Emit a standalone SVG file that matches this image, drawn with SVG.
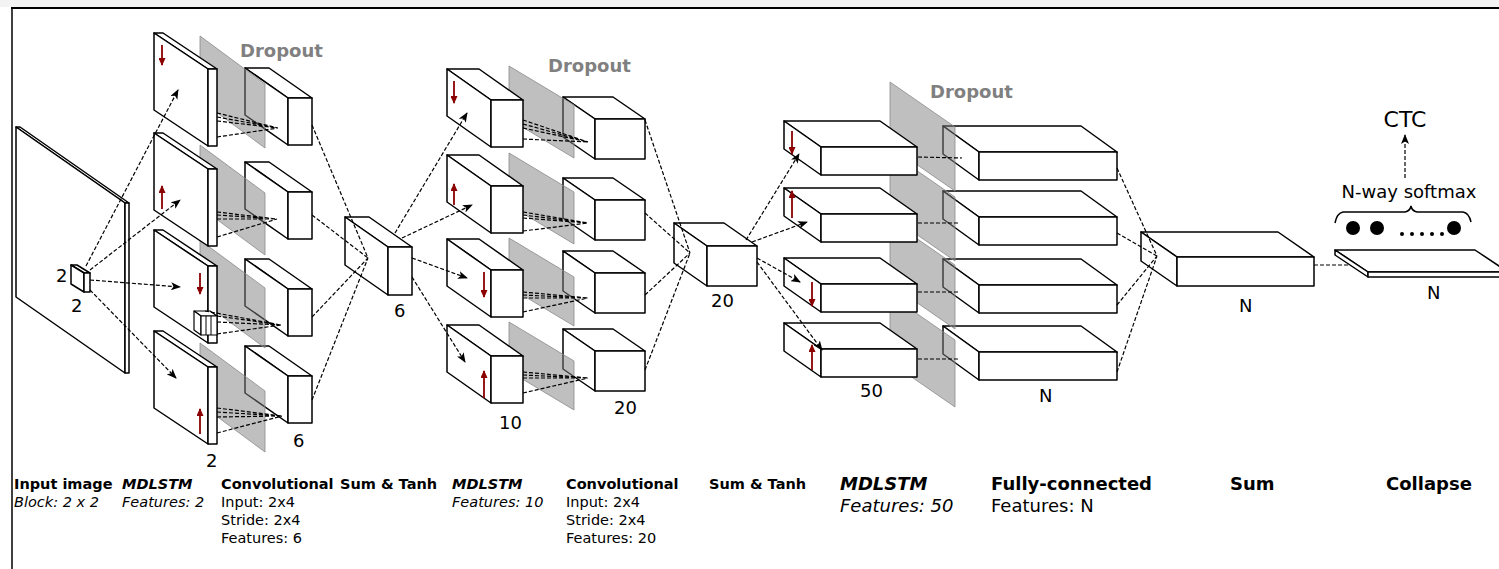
<svg xmlns="http://www.w3.org/2000/svg" width="1499" height="569" viewBox="0 0 1499 569">
<style>
.f{fill:#fff;stroke:#000;stroke-width:1.5;stroke-linejoin:round}
.g{fill:#808080;fill-opacity:0.5;stroke:#8a8a8a;stroke-width:0.8}
.d{fill:none;stroke:#000;stroke-width:1.2;stroke-dasharray:4 2}
.da{fill:none;stroke:#000;stroke-width:1.2;stroke-dasharray:4 2;marker-end:url(#ah)}
.r{stroke:#8b0000;stroke-width:1.8;marker-end:url(#rh)}
.t{font-family:"DejaVu Sans",sans-serif;fill:#000}
.n{font-family:"DejaVu Sans",sans-serif;font-size:18px;fill:#000}
.b{font-weight:bold}
.i{font-style:italic}
.s14{font-size:14.5px}
.s18{font-size:18px}
.drop{font-family:"DejaVu Sans",sans-serif;font-size:18px;font-weight:bold;fill:#808080}
</style>
<defs>
<marker id="ah" markerWidth="10" markerHeight="8" refX="9" refY="4" orient="auto" markerUnits="userSpaceOnUse"><path d="M0,0 L10,4 L0,8 L2.5,4 z" fill="#000"/></marker>
<marker id="rh" markerWidth="8" markerHeight="7" refX="7" refY="3.5" orient="auto" markerUnits="userSpaceOnUse"><path d="M0,0 L8,3.5 L0,7 z" fill="#8b0000"/></marker>
</defs>
<rect x="0" y="0" width="1499" height="569" fill="#fff"/>
<rect x="0" y="0" width="1499" height="7" fill="#f3f3f3"/>
<g id="frame">
<line x1="11" y1="8" x2="1499" y2="8" stroke="#000" stroke-width="2"/>
<line x1="12" y1="8" x2="12" y2="569" stroke="#000" stroke-width="1.5"/>
</g>

<g id="input-image">
<polygon class="f" points="16,127 20,127 129,203 125,203"/>
<polygon class="f" points="16,127 125,203 125,373 16,297"/>
<rect class="f" x="125" y="203" width="4" height="170"/>
</g>
<g id="input-block">
<polygon class="f" points="71,265 77,265 90,273 84,273"/>
<polygon class="f" points="71,265 84,273 84,292 71,284"/>
<rect class="f" x="84" y="273" width="6" height="19"/>
</g>

<g id="conv1-1"><polygon class="f" points="245,68 269,68 312,98 288,98"/><polygon class="f" points="245,68 288,98 288,145 245,115"/><rect class="f" x="288" y="98" width="24" height="47"/></g>
<g id="conv1-2"><polygon class="f" points="245,162 269,162 312,192 288,192"/><polygon class="f" points="245,162 288,192 288,239 245,209"/><rect class="f" x="288" y="192" width="24" height="47"/></g>
<g id="conv1-3"><polygon class="f" points="245,259 269,259 312,289 288,289"/><polygon class="f" points="245,259 288,289 288,336 245,306"/><rect class="f" x="288" y="289" width="24" height="47"/></g>
<g id="conv1-4"><polygon class="f" points="245,346 269,346 312,376 288,376"/><polygon class="f" points="245,346 288,376 288,423 245,393"/><rect class="f" x="288" y="376" width="24" height="47"/></g>

<g id="dropout1">
<polygon class="g" points="200,36 265,84 265,148 200,100"/>
<polygon class="g" points="200,145 265,193 265,255 200,207"/>
<polygon class="g" points="200,240 265,288 265,348 200,300"/>
<polygon class="g" points="200,343 265,391 265,452 200,404"/>
</g>

<g id="mdlstm1-1"><polygon class="f" points="154,33 163,33 217,69 208,69"/><polygon class="f" points="154,33 208,69 208,146 154,110"/><rect class="f" x="208" y="69" width="9" height="77"/><line class="r" x1="162" y1="45" x2="162" y2="65"/></g>
<g id="mdlstm1-2"><polygon class="f" points="154,133 163,133 217,169 208,169"/><polygon class="f" points="154,133 208,169 208,246 154,210"/><rect class="f" x="208" y="169" width="9" height="77"/><line class="r" x1="162" y1="209" x2="162" y2="186"/></g>
<g id="mdlstm1-3"><polygon class="f" points="154,230 163,230 217,266 208,266"/><polygon class="f" points="154,230 208,266 208,343 154,307"/><rect class="f" x="208" y="266" width="9" height="77"/><line class="r" x1="200" y1="273" x2="200" y2="294"/></g>
<g id="mdlstm1-4"><polygon class="f" points="154,331 163,331 217,367 208,367"/><polygon class="f" points="154,331 208,367 208,444 154,408"/><rect class="f" x="208" y="367" width="9" height="77"/><line class="r" x1="200" y1="434" x2="200" y2="409"/></g>
<g id="kernel">
<polygon class="f" points="194,311 210,311 217,316 201,316" style="stroke-width:1.2"/>
<polygon class="f" points="194,311 201,316 201,335 194,330" style="stroke-width:1.2"/>
<rect class="f" x="201" y="316" width="16" height="19" style="stroke-width:1.2"/>
<path d="M206,316 V335 M211,316 V335" stroke="#000" stroke-width="1"/>
</g>

<g id="sum1"><polygon class="f" points="345,217 369,217 412,247 388,247"/><polygon class="f" points="345,217 388,247 388,295 345,265"/><rect class="f" x="388" y="247" width="24" height="48"/></g>

<g id="conv2-1"><polygon class="f" points="563,97 613,97 645,119 595,119"/><polygon class="f" points="563,97 595,119 595,159 563,137"/><rect class="f" x="595" y="119" width="50" height="40"/></g>
<g id="conv2-2"><polygon class="f" points="563,178 613,178 645,200 595,200"/><polygon class="f" points="563,178 595,200 595,240 563,218"/><rect class="f" x="595" y="200" width="50" height="40"/></g>
<g id="conv2-3"><polygon class="f" points="563,251 613,251 645,273 595,273"/><polygon class="f" points="563,251 595,273 595,313 563,291"/><rect class="f" x="595" y="273" width="50" height="40"/></g>
<g id="conv2-4"><polygon class="f" points="563,329 613,329 645,351 595,351"/><polygon class="f" points="563,329 595,351 595,391 563,369"/><rect class="f" x="595" y="351" width="50" height="40"/></g>

<g id="dropout2">
<polygon class="g" points="509,66 574,105 574,158 509,119"/>
<polygon class="g" points="509,153 574,192 574,244 509,205"/>
<polygon class="g" points="509,238 574,277 574,326 509,287"/>
<polygon class="g" points="509,322 574,361 574,410 509,371"/>
</g>

<g id="mdlstm2-1"><polygon class="f" points="447,69 479,69 523,100 491,100"/><polygon class="f" points="447,69 491,100 491,147 447,116"/><rect class="f" x="491" y="100" width="32" height="47"/><line class="r" x1="454" y1="81" x2="454" y2="103"/></g>
<g id="mdlstm2-2"><polygon class="f" points="447,155 479,155 523,186 491,186"/><polygon class="f" points="447,155 491,186 491,233 447,202"/><rect class="f" x="491" y="186" width="32" height="47"/><line class="r" x1="454" y1="205" x2="454" y2="184"/></g>
<g id="mdlstm2-3"><polygon class="f" points="447,239 479,239 523,270 491,270"/><polygon class="f" points="447,239 491,270 491,317 447,286"/><rect class="f" x="491" y="270" width="32" height="47"/><line class="r" x1="484" y1="272" x2="484" y2="297"/></g>
<g id="mdlstm2-4"><polygon class="f" points="447,325 479,325 523,356 491,356"/><polygon class="f" points="447,325 491,356 491,403 447,372"/><rect class="f" x="491" y="356" width="32" height="47"/><line class="r" x1="484" y1="398" x2="484" y2="371"/></g>

<g id="sum2"><polygon class="f" points="674,223 724,223 757,246 707,246"/><polygon class="f" points="674,223 707,246 707,286 674,263"/><rect class="f" x="707" y="246" width="50" height="40"/></g>

<g id="fc-1"><polygon class="f" points="943,126 1081,126 1117,152 979,152"/><polygon class="f" points="943,126 979,152 979,180 943,154"/><rect class="f" x="979" y="152" width="138" height="28"/></g>
<g id="fc-2"><polygon class="f" points="943,191 1081,191 1117,217 979,217"/><polygon class="f" points="943,191 979,217 979,245 943,219"/><rect class="f" x="979" y="217" width="138" height="28"/></g>
<g id="fc-3"><polygon class="f" points="943,259 1081,259 1117,285 979,285"/><polygon class="f" points="943,259 979,285 979,313 943,287"/><rect class="f" x="979" y="285" width="138" height="28"/></g>
<g id="fc-4"><polygon class="f" points="943,326 1081,326 1117,352 979,352"/><polygon class="f" points="943,326 979,352 979,380 943,354"/><rect class="f" x="979" y="352" width="138" height="28"/></g>

<g id="dropout3">
<polygon class="g" points="890,82 955,127 955,191 890,146"/>
<polygon class="g" points="890,152 955,197 955,261 890,216"/>
<polygon class="g" points="890,220 955,265 955,329 890,284"/>
<polygon class="g" points="890,295 955,340 955,407 890,362"/>
</g>

<g id="mdlstm3-1"><polygon class="f" points="784,121 880,121 917,147 821,147"/><polygon class="f" points="784,121 821,147 821,175 784,149"/><rect class="f" x="821" y="147" width="96" height="28"/><line class="r" x1="792" y1="131" x2="792" y2="154"/></g>
<g id="mdlstm3-2"><polygon class="f" points="784,188 880,188 917,214 821,214"/><polygon class="f" points="784,188 821,214 821,242 784,216"/><rect class="f" x="821" y="214" width="96" height="28"/><line class="r" x1="792" y1="218" x2="792" y2="191"/></g>
<g id="mdlstm3-3"><polygon class="f" points="784,258 880,258 917,284 821,284"/><polygon class="f" points="784,258 821,284 821,312 784,286"/><rect class="f" x="821" y="284" width="96" height="28"/><line class="r" x1="812" y1="282" x2="812" y2="306"/></g>
<g id="mdlstm3-4"><polygon class="f" points="784,323 880,323 917,349 821,349"/><polygon class="f" points="784,323 821,349 821,377 784,351"/><rect class="f" x="821" y="349" width="96" height="28"/><line class="r" x1="812" y1="370" x2="812" y2="345"/></g>

<g id="sum3"><polygon class="f" points="1141,232 1278,232 1314,257 1177,257"/><polygon class="f" points="1141,232 1177,257 1177,286 1141,261"/><rect class="f" x="1177" y="257" width="137" height="29"/></g>

<g id="collapse"><polygon class="f" points="1335,250 1475,250 1508,272 1368,272"/><polygon class="f" points="1335,250 1368,272 1368,277 1335,255"/><rect class="f" x="1368" y="272" width="140" height="5"/></g>

<g id="softmax">
<circle cx="1353" cy="228" r="7" fill="#000"/>
<circle cx="1377" cy="228" r="7" fill="#000"/>
<circle cx="1454" cy="228" r="7" fill="#000"/>
<circle cx="1402" cy="234" r="2" fill="#000"/>
<circle cx="1412" cy="234" r="2" fill="#000"/>
<circle cx="1422" cy="234" r="2" fill="#000"/>
<circle cx="1432" cy="234" r="2" fill="#000"/>
<circle cx="1442" cy="234" r="2" fill="#000"/>
<path d="M1335,223 Q1337,213 1343,212 L1405,212 Q1410,211 1411,206 Q1412,211 1417,212 L1463,212 Q1469,213 1471,222" fill="none" stroke="#000" stroke-width="1.5"/>
</g>

<g id="connectors">
<line class="da" x1="86" y1="266" x2="178" y2="90"/>
<line class="da" x1="90" y1="270" x2="180" y2="200"/>
<line class="da" x1="90" y1="280" x2="180" y2="287"/>
<line class="da" x1="90" y1="290" x2="176" y2="378"/>

<path class="d" d="M217,113 L278,128 M217,117 L278,128 M217,121 L278,128 M217,137 L278,128"/>
<path class="d" d="M217,212 L277,219 M217,215 L277,219 M217,219 L277,219 M217,237 L277,219"/>
<path class="d" d="M205,311 L281,325 M217,316 L281,325 M217,322 L281,325 M217,334 L281,325"/>
<path class="d" d="M217,408 L282,416 M217,412 L282,416 M217,417 L282,416 M217,433 L282,416"/>

<path class="d" d="M312,125 L368,258 M312,215 L368,258 M312,317 L368,258 M312,400 L368,258"/>

<line class="da" x1="395" y1="233" x2="467" y2="113"/>
<line class="da" x1="402" y1="238" x2="472" y2="205"/>
<line class="da" x1="412" y1="258" x2="467" y2="278"/>
<line class="da" x1="412" y1="277" x2="465" y2="362"/>

<path class="d" d="M523,120 L588,142 M523,124 L588,142 M523,128 L588,142 M523,139 L588,142"/>
<path class="d" d="M523,212 L588,223 M523,215 L588,223 M523,218 L588,223 M523,231 L588,223"/>
<path class="d" d="M523,292 L588,298 M523,295 L588,298 M523,298 L588,298 M523,312 L588,298"/>
<path class="d" d="M523,372 L588,378 M523,375 L588,378 M523,378 L588,378 M523,393 L588,378"/>

<path class="d" d="M645,120 L690,253 M645,213 L690,253 M645,295 L690,253 M645,370 L690,253"/>

<line class="da" x1="746" y1="240" x2="799" y2="154"/>
<line class="da" x1="752" y1="242" x2="807" y2="222"/>
<line class="da" x1="757" y1="258" x2="800" y2="282"/>
<line class="da" x1="757" y1="262" x2="822" y2="350"/>

<path class="d" d="M918,157 L962,158 M918,223 L960,223 M918,292 L958,292 M918,359 L958,359"/>

<path class="d" d="M1117,168 L1157,256 M1117,233 L1157,256 M1117,305 L1157,256 M1117,372 L1157,256"/>

<line class="d" x1="1314" y1="265" x2="1348" y2="265"/>
<line class="da" x1="1405" y1="178" x2="1405" y2="135"/>
</g>

<g id="labels">
<text class="drop" x="240" y="57">Dropout</text>
<text class="drop" x="548" y="72">Dropout</text>
<text class="drop" x="930" y="98">Dropout</text>

<text class="n" x="56" y="282">2</text>
<text class="n" x="71" y="312">2</text>
<text class="n" x="206" y="467">2</text>
<text class="n" x="293" y="447">6</text>
<text class="n" x="394" y="317">6</text>
<text class="n" x="499" y="429">10</text>
<text class="n" x="614" y="414">20</text>
<text class="n" x="711" y="307">20</text>
<text class="n" x="860" y="397">50</text>
<text class="n" x="1039" y="402">N</text>
<text class="n" x="1239" y="312">N</text>
<text class="n" x="1427" y="299">N</text>

<text class="t" x="1405" y="127" font-size="22" text-anchor="middle">CTC</text>
<text class="t s18" x="1409" y="198" text-anchor="middle">N-way softmax</text>

<text class="t b s14" x="14" y="489">Input image</text>
<text class="t i s14" x="14" y="507">Block: 2 x 2</text>
<text class="t b i s14" x="122" y="489">MDLSTM</text>
<text class="t i s14" x="122" y="507">Features: 2</text>
<text class="t b s14" x="221" y="489">Convolutional</text>
<text class="t s14" x="221" y="507">Input: 2x4</text>
<text class="t s14" x="221" y="525">Stride: 2x4</text>
<text class="t s14" x="221" y="543">Features: 6</text>
<text class="t b s14" x="340" y="489">Sum &amp; Tanh</text>
<text class="t b i s14" x="452" y="489">MDLSTM</text>
<text class="t i s14" x="452" y="507">Features: 10</text>
<text class="t b s14" x="566" y="489">Convolutional</text>
<text class="t s14" x="566" y="507">Input: 2x4</text>
<text class="t s14" x="566" y="525">Stride: 2x4</text>
<text class="t s14" x="566" y="543">Features: 20</text>
<text class="t b s14" x="709" y="489">Sum &amp; Tanh</text>
<text class="t b i s18" x="840" y="490">MDLSTM</text>
<text class="t i s18" x="840" y="512">Features: 50</text>
<text class="t b s18" x="991" y="490">Fully-connected</text>
<text class="t s18" x="991" y="512">Features: N</text>
<text class="t b s18" x="1230" y="490">Sum</text>
<text class="t b s18" x="1386" y="490">Collapse</text>
</g>
</svg>
